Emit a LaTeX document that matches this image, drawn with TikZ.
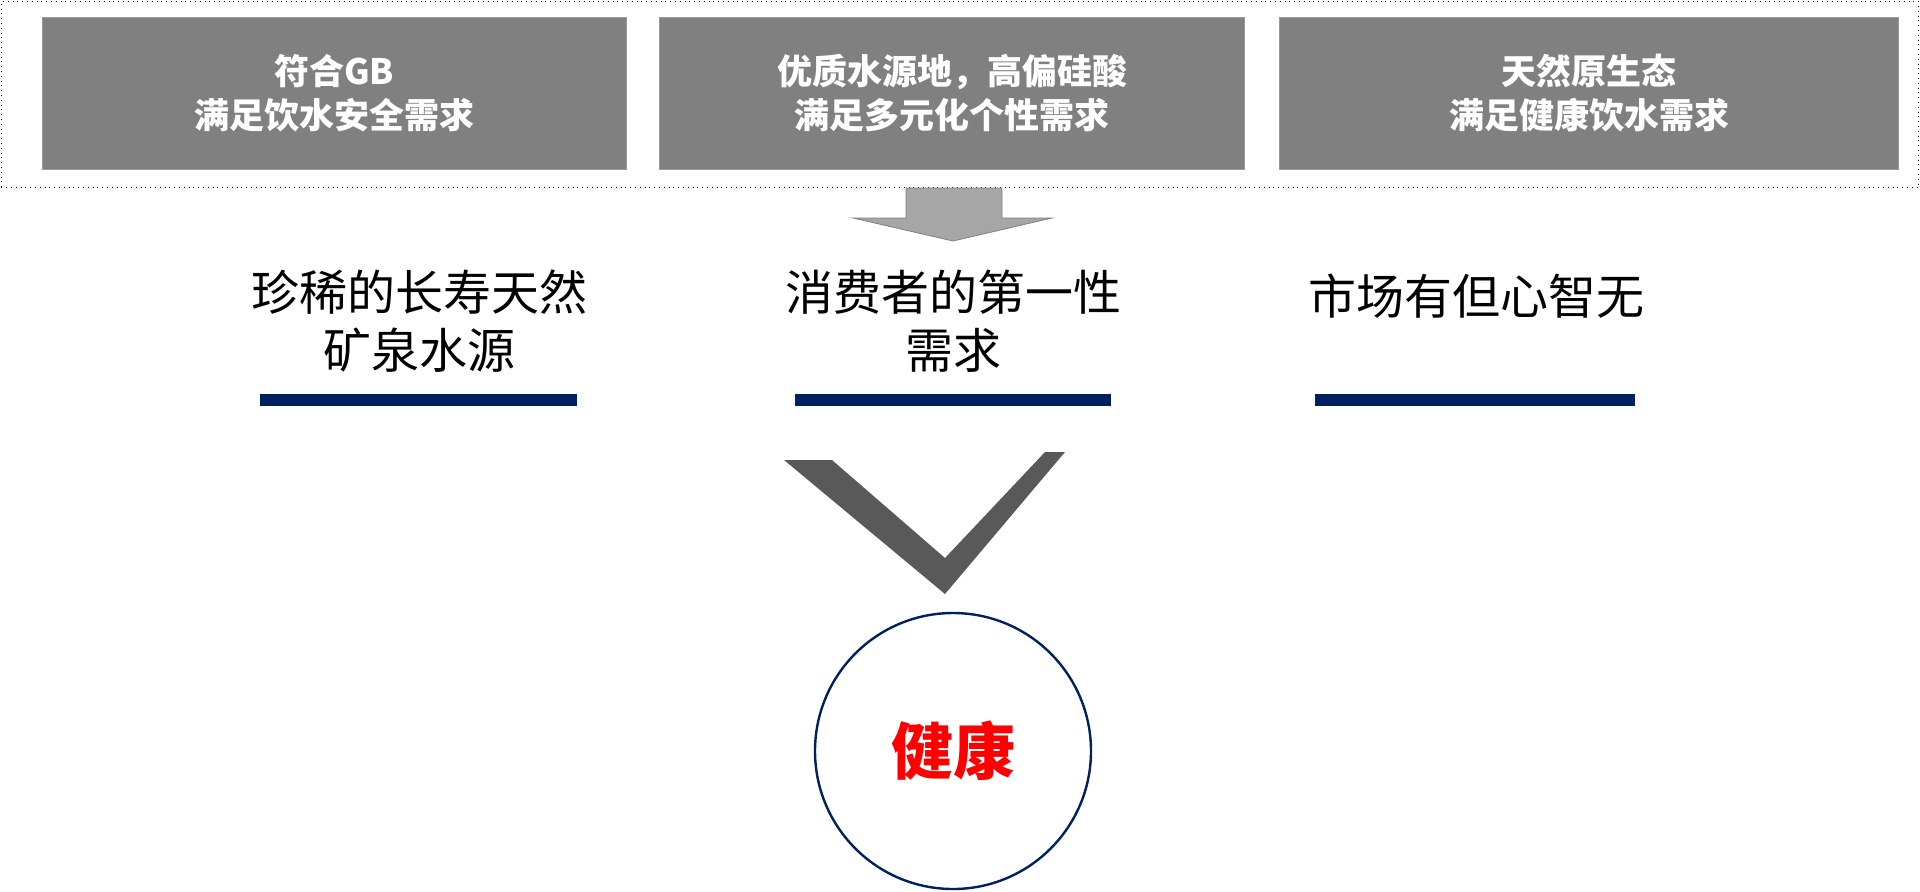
\documentclass[tikz,border=0pt]{standalone}
\usepackage{fontspec}
\setmainfont{Noto Sans CJK SC}
\begin{document}
\begin{tikzpicture}[x=0.5pt,y=-0.5pt,
  topbox/.style={fill=black!50,draw=black!40,text=white,font=\fontsize{17.5}{22}\selectfont\bfseries,align=center},
  mid/.style={font=\fontsize{24}{29}\selectfont,align=center},
  bar/.style={draw=navy,line width=6pt}]
\definecolor{navy}{HTML}{002060}
\useasboundingbox (0,0) rectangle (1920,891);
\node[draw,dotted,minimum width=1917*0.5pt,minimum height=186*0.5pt,anchor=north west] (outer) at (1,1) {};
\node[topbox,minimum width=584*0.5pt,minimum height=152*0.5pt] (b1) at (334,93) {符合GB\\满足饮水安全需求};
\node[topbox,minimum width=585*0.5pt,minimum height=152*0.5pt] (b2) at (952,93) {优质水源地，高偏硅酸\\满足多元化个性需求};
\node[topbox,minimum width=619*0.5pt,minimum height=152*0.5pt] (b3) at (1589,93) {天然原生态\\满足健康饮水需求};
\draw[fill=black!35,draw=black!50] (906,188) -- (1002,188) -- (1002,218) -- (1052,218) -- (953,241) -- (853,218) -- (906,218) -- cycle;
\node[mid] (t1) at (419,321) {珍稀的长寿天然\\矿泉水源};
\node[mid] (t2) at (953,321) {消费者的第一性\\需求};
\node[mid] (t3) at (1476,296) {市场有但心智无};
\draw[bar] (260,400) -- (577,400);
\draw[bar] (795,400) -- (1111,400);
\draw[bar] (1315,400) -- (1635,400);
\fill[black!65] (784,460) -- (832,460) -- (945,558) -- (1045,452) -- (1065,452) -- (945,594) -- cycle;
\node[draw=navy,line width=1.2pt,circle,minimum size=276*0.5pt,text=red,font=\fontsize{31}{36}\selectfont\bfseries] (c) at (953,751) {健康};
\end{tikzpicture}
\end{document}
